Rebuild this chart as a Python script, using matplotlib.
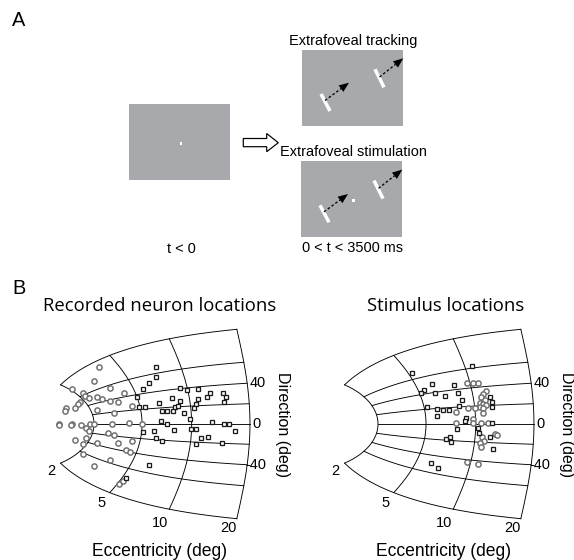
import numpy as np
import matplotlib.pyplot as plt
from matplotlib.patches import Rectangle, Polygon

# collicular map (Ottes et al. 1986): A in deg, Bu/Bv in mm
A_DEG, BU, BV = 3.0, 1.4, 1.8

ECC_ARCS = [2, 5, 10, 20]
DIR_LINES = [-90, -60, -40, -20, 0, 20, 40, 60, 90]
DIR_TICKS = [40, 0, -40]

# recorded sites / stimulus sites on the map, (u, v) in mm
rec_squares = [
    (1.56, 1.54), (1.56, 1.27), (1.47, 1.11), (1.38, 0.95), (1.30, 0.73), (1.33, 0.47),
    (1.41, 0.45), (1.61, 0.58), (1.64, 0.35), (1.71, 0.35), (1.80, 0.34), (1.82, 0.45),
    (1.86, 0.50), (1.78, 0.69), (1.89, 0.63), (1.89, 0.97), (1.99, 0.91), (2.14, 0.94),
    (2.14, 0.67), (2.11, 0.55), (2.08, 0.42), (1.95, 0.31), (2.03, 0.14), (1.63, 0.09),
    (1.71, 0.01), (1.81, -0.16), (1.38, -0.21), (1.54, -0.20), (1.56, -0.39), (1.65, -0.46),
    (2.04, -0.14), (2.11, -0.14), (2.33, 0.05), (2.49, 0.01), (2.57, 0.00), (2.65, -0.18),
    (2.27, -0.35), (2.18, -0.37), (2.11, -0.54), (2.47, -0.51), (1.47, -1.10), (1.16, -1.47),
    (2.30, 0.83), (2.26, 0.72), (2.48, 0.84), (2.52, 0.72), (2.50, 0.60),
]
rec_circles = [
    (0.79, 1.55), (0.71, 1.15), (0.42, 0.94), (0.56, 0.85), (0.59, 0.77), (0.53, 0.60),
    (0.50, 0.53), (0.64, 0.70), (0.75, 0.72), (0.82, 0.68), (0.93, 0.97), (1.13, 0.84),
    (0.94, 0.63), (1.04, 0.59), (0.33, 0.42), (0.32, 0.34), (0.45, 0.43), (0.75, 0.37),
    (0.99, 0.31), (1.24, 0.50), (0.23, 0.01), (0.24, -0.03), (0.41, 0.01), (0.40, -0.02),
    (0.54, -0.03), (0.60, -0.10), (0.64, -0.18), (0.66, 0.01), (0.72, 0.01), (0.96, 0.01),
    (1.20, 0.03), (1.37, 0.01), (0.45, -0.43), (0.61, -0.38), (0.57, -0.53), (0.75, -0.52),
    (0.91, -0.24), (0.99, -0.29), (1.05, -0.51), (1.24, -0.47), (1.15, -0.70), (1.21, -0.77),
    (0.57, -0.82), (0.93, -0.97), (0.71, -1.14), (1.06, -1.61), (1.11, -1.53),
]
stim_squares = [
    (1.18, 1.39), (2.00, 1.57), (1.45, 1.09), (1.35, 0.92), (1.31, 0.83), (1.50, 0.84),
    (1.63, 0.76), (1.76, 1.05), (1.81, 0.83), (1.87, 0.64), (1.83, 0.50), (1.39, 0.45),
    (1.53, 0.40), (1.60, 0.37), (1.69, 0.37), (1.52, 0.21), (1.92, 0.16), (1.91, 0.07),
    (1.80, -0.13), (2.09, -0.12), (2.10, -0.23), (1.70, -0.34), (1.65, -0.41), (1.72, -0.48),
    (2.25, 0.74), (2.28, 0.60), (2.27, 0.47), (2.27, 0.02), (2.25, -0.34), (2.29, -0.68),
    (1.44, -1.05), (1.54, -1.20),
]
stim_circles = [
    (1.93, 1.10), (2.01, 1.10), (2.08, 1.11), (2.20, 0.88), (2.16, 0.81), (2.13, 0.73),
    (2.18, 0.64), (2.11, 0.56), (2.15, 0.53), (2.20, 0.51), (2.11, 0.47), (2.16, 0.42),
    (2.15, 0.29), (1.95, 0.42), (2.04, 0.42), (1.79, 0.33), (2.02, 0.14), (1.78, 0.02),
    (2.01, 0.02), (2.13, 0.02), (2.22, 0.02), (2.14, -0.34), (2.17, -0.45), (2.11, -0.52),
    (2.12, -0.63), (2.32, -0.27), (2.35, -0.31), (1.93, -1.04), (2.08, -1.07),
]

W, H = 574, 560
SANS = 'Liberation Sans'
TITLE_FONT = 'Open Sans'
GRAY = '#a8a9ad'

fig = plt.figure(figsize=(W / 72, H / 72), dpi=72)

# pixel-space overlay for the schematic and free text
over = fig.add_axes([0, 0, 1, 1])
over.set_xlim(0, W)
over.set_ylim(H, 0)
over.axis('off')


def sc_map(ecc, direction):
    z = np.asarray(ecc) * np.exp(1j * np.deg2rad(direction))
    w = np.log((z + A_DEG) / A_DEG)
    return BU * w.real, BV * w.imag


def screen(x, y, w, h):
    over.add_patch(Rectangle((x, y), w, h, color=GRAY, lw=0))


def bar(x0, y0, x1, y1):
    over.plot([x0, x1], [y0, y1], color='white', lw=3.5, solid_capstyle='butt')


def dashed_arrow(x0, y0, x1, y1, head=10, half=4):
    d = np.array([x1 - x0, y1 - y0], float)
    L = np.hypot(*d)
    d /= L
    n = np.array([-d[1], d[0]])
    base = np.array([x1, y1]) - d * head
    over.plot([x0, base[0]], [y0, base[1]], color='black', lw=1.3, ls=(0, (2, 1.6)))
    over.add_patch(Polygon([(x1, y1), base + n * half, base - n * half],
                           closed=True, color='black', lw=0))


# panel A
over.text(19, 21, 'A', fontsize=20, family=SANS, ha='center', va='center')
screen(129.3, 104, 100.7, 75.7)
over.add_patch(Rectangle((180, 142), 2, 2.5, color='white', lw=0))
over.text(181, 249, 't < 0', fontsize=14.5, family=SANS, ha='center', va='center')

over.add_patch(Polygon([(243.3, 138.5), (266.7, 138.5), (266.7, 133.5), (278.3, 142.7),
                        (266.7, 151.7), (266.7, 146.7), (243.3, 146.7)],
                       closed=True, fc='white', ec='black', lw=1.2))

for dy, dx, label, ly in [(0, 0, 'Extrafoveal tracking', 41),
                         (111.3, -1, 'Extrafoveal stimulation', 152.5)]:
    over.text(353.5, ly, label, fontsize=14.5, family=SANS, ha='center', va='center')
    screen(302.3 + dx, 50 + dy, 100.7, 75.7)
    bar(321 + dx, 94 + dy, 330 + dx, 111 + dy)
    bar(375 + dx, 69.3 + dy, 384 + dx, 87.3 + dy)
    dashed_arrow(325 + dx, 100.5 + dy, 349 + dx, 82.7 + dy)
    dashed_arrow(379.5 + dx, 77 + dy, 403.3 + dx, 58.3 + dy)
over.add_patch(Rectangle((352, 198.5), 3, 3, color='white', lw=0))
over.text(352, 247.5, '0 < t < 3500 ms', fontsize=14.5, family=SANS, ha='center', va='center')

# panel B
over.text(19, 288, 'B', fontsize=20, family=SANS, ha='center', va='center')

SU, SV, Y0 = 73.0, 37.0, 424.0   # px per mm, row of the horizontal meridian
TOP, BOT = 318, 535


def map_axes(x0, squares, circles, title, title_x):
    left, right = x0 - 14, x0 + 250
    ax = fig.add_axes([left / W, 1 - BOT / H, (right - left) / W, (BOT - TOP) / H])
    ax.set_xlim((left - x0) / SU, (right - x0) / SU)
    ax.set_ylim((Y0 - BOT) / SV, (Y0 - TOP) / SV)
    ax.axis('off')

    phi = np.linspace(-90, 90, 300)
    for e in ECC_ARCS:
        u, v = sc_map(e, phi)
        ax.plot(u, v, color='black', lw=0.9, zorder=1)
    r = np.geomspace(ECC_ARCS[0], ECC_ARCS[-1], 300)
    for d in DIR_LINES:
        u, v = sc_map(r, d)
        ax.plot(u, v, color='black', lw=0.9, zorder=1)

    for d in DIR_TICKS:
        u, v = sc_map(ECC_ARCS[-1], d)
        ax.annotate(f'{d}', (u, v), xytext=(2 if d >= 0 else -2, 0),
                    textcoords='offset points', ha='left', va='center',
                    fontsize=14.5, family=SANS)
    for e, off in zip(ECC_ARCS, [(-9, -8), (-8, -10), (-9, -14), (-8, -9)]):
        u, v = sc_map(e, -90)
        ax.annotate(f'{e}', (u, v), xytext=off, textcoords='offset points',
                    ha='center', va='center', fontsize=14.5, family=SANS)

    cu, cv = zip(*circles)
    ax.plot(cu, cv, 'o', ms=5.2, mfc='white', mec='#707070', mew=1.5, ls='none', zorder=3)
    su, sv = zip(*squares)
    ax.plot(su, sv, 's', ms=4.3, mfc='white', mec='#1a1a1a', mew=1.3, ls='none', zorder=4)

    over.text(title_x, 306, title, fontsize=18.5, family=TITLE_FONT,
              ha='center', va='center')
    over.text(x0 + 241, Y0 + 1, 'Direction (deg)', fontsize=16, family=SANS,
              rotation=270, ha='center', va='center')
    over.text(x0 + 118, 551, 'Eccentricity (deg)', fontsize=17.5, family=SANS,
              ha='center', va='center')
    return ax


map_axes(41.8, rec_squares, rec_circles, 'Recorded neuron locations', 160)
map_axes(325.8, stim_squares, stim_circles, 'Stimulus locations', 446)

fig.savefig('out.png', dpi=72)
